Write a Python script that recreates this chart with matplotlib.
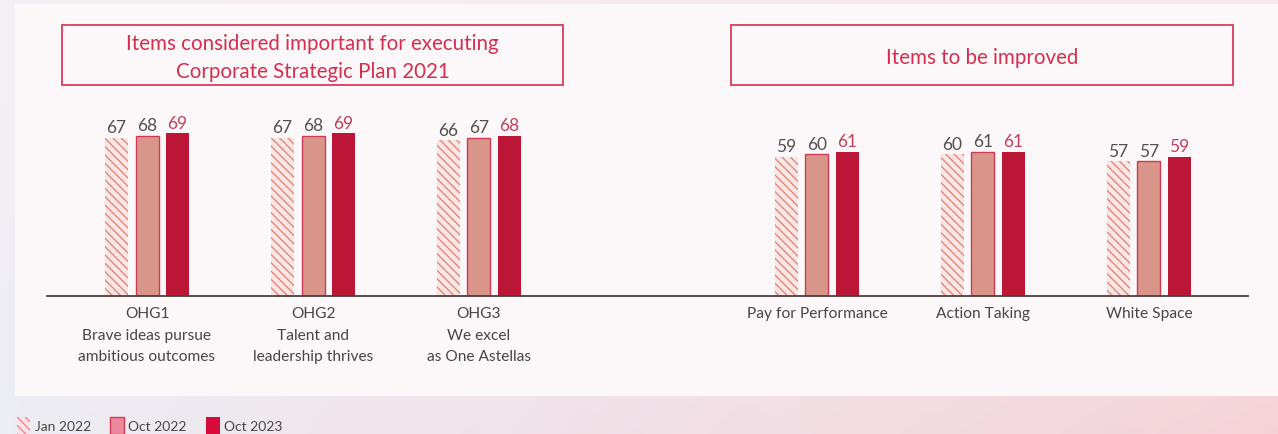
import numpy as np
import matplotlib.pyplot as plt
from matplotlib.patches import Patch, Rectangle

plt.rcParams['font.family'] = ['Lato', 'DejaVu Sans']
plt.rcParams['hatch.linewidth'] = 0.9

# Engagement survey scores by item
left_items = ['OHG1\nBrave ideas pursue\nambitious outcomes',
              'OHG2\nTalent and\nleadership thrives',
              'OHG3\nWe excel\nas One Astellas']
right_items = ['Pay for Performance', 'Action Taking', 'White Space']
jan_2022 = [67, 67, 66, 59, 60, 57]
oct_2022 = [68, 68, 67, 60, 61, 57]
oct_2023 = [69, 69, 68, 61, 61, 59]
series_names = ['Jan 2022', 'Oct 2022', 'Oct 2023']

W, H = 1278, 435
fig = plt.figure(figsize=(W / 100, H / 100), dpi=100)

# soft lavender-to-pink backdrop
bg = fig.add_axes([0, 0, 1, 1], zorder=-2)
tl, tr = np.array([0.96, 0.94, 0.96]), np.array([0.98, 0.90, 0.92])
bl, br = np.array([0.93, 0.93, 0.96]), np.array([0.96, 0.83, 0.85])
u = np.linspace(0, 1, 200)[None, :, None]
v = np.linspace(0, 1, 60)[:, None, None]
grad = (1 - v) * ((1 - u) * tl + u * tr) + v * ((1 - u) * bl + u * br)
bg.imshow(grad, extent=[0, 1, 0, 1], aspect='auto', origin='upper')
bg.add_patch(Rectangle((15 / W, 1 - 397 / H), 1, (397 - 5) / H,
                       facecolor='#fcf7f8', edgecolor='none'))
bg.set_xlim(0, 1)
bg.set_ylim(0, 1)
bg.axis('off')

# bar chart area: baseline at y=297 px, 1 score point = 2.36 px
ymax = 80
ax = fig.add_axes([47 / W, (H - 297) / H, (1248 - 47) / W, ymax * 2.36 / H])
ax.patch.set_visible(False)
group_step = 166
ax.set_xlim(-100 / group_step, (1248 - 147) / group_step)
ax.set_ylim(0, ymax)

x = np.concatenate([np.arange(3), np.arange(3) + 670 / group_step])
width = 23 / group_step
offset = 30.5 / group_step

b1 = ax.bar(x - offset, jan_2022, width, facecolor='#f9e6e2', edgecolor='#e27d73',
            linewidth=0, hatch='\\\\\\\\', zorder=2)
b2 = ax.bar(x, oct_2022, width, facecolor='#da958b', edgecolor='#cc3a55',
            linewidth=1.0, zorder=2)
b3 = ax.bar(x + offset, oct_2023, width, facecolor='#bc1637', edgecolor='none', zorder=2)

for bars, vals, col in [(b1, jan_2022, '#555050'), (b2, oct_2022, '#555050'),
                        (b3, oct_2023, '#c0405e')]:
    for rect, val in zip(bars, vals):
        ax.annotate(str(val), (rect.get_x() + rect.get_width() / 2, val),
                    xytext=(0, 4), textcoords='offset points',
                    ha='center', va='baseline', fontsize=12.5, color=col)

for s in ['top', 'right', 'left']:
    ax.spines[s].set_visible(False)
ax.spines['bottom'].set_color('#4a4040')
ax.spines['bottom'].set_linewidth(1.3)
ax.set_yticks([])
ax.set_xticks(x)
ax.set_xticklabels(left_items + right_items, fontsize=11.2, color='#4a4545',
                   linespacing=1.68)
ax.tick_params(axis='x', length=0, pad=7.5)

# section headers
title_col = '#d42f50'
for x0, x1, label in [(62, 563, 'Items considered important for executing\nCorporate Strategic Plan 2021'),
                      (731, 1233, 'Items to be improved')]:
    bg.add_patch(Rectangle((x0 / W, 1 - 86 / H), (x1 - x0) / W, 60 / H,
                           facecolor='none', edgecolor='#d83c5c', linewidth=1.3))
    bg.text((x0 + x1) / 2 / W, 1 - 58 / H, label, ha='center', va='center',
            fontsize=14.8, color=title_col, linespacing=1.55)

handles = [Patch(facecolor='#fbe3e6', edgecolor='#ee8096', linewidth=0, hatch='\\\\\\\\'),
           Patch(facecolor='#ec8a9c', edgecolor='#d6385a', linewidth=1.0),
           Patch(facecolor='#d80a3c', edgecolor='none')]
fig.legend(handles, series_names, loc='lower left', bbox_to_anchor=(4 / W, -12 / H),
           ncol=3, frameon=False, fontsize=10, handlelength=1.0, handleheight=1.4,
           handletextpad=0.3, columnspacing=1.4, labelcolor='#4a4545')

fig.savefig('out.png', dpi=100)
